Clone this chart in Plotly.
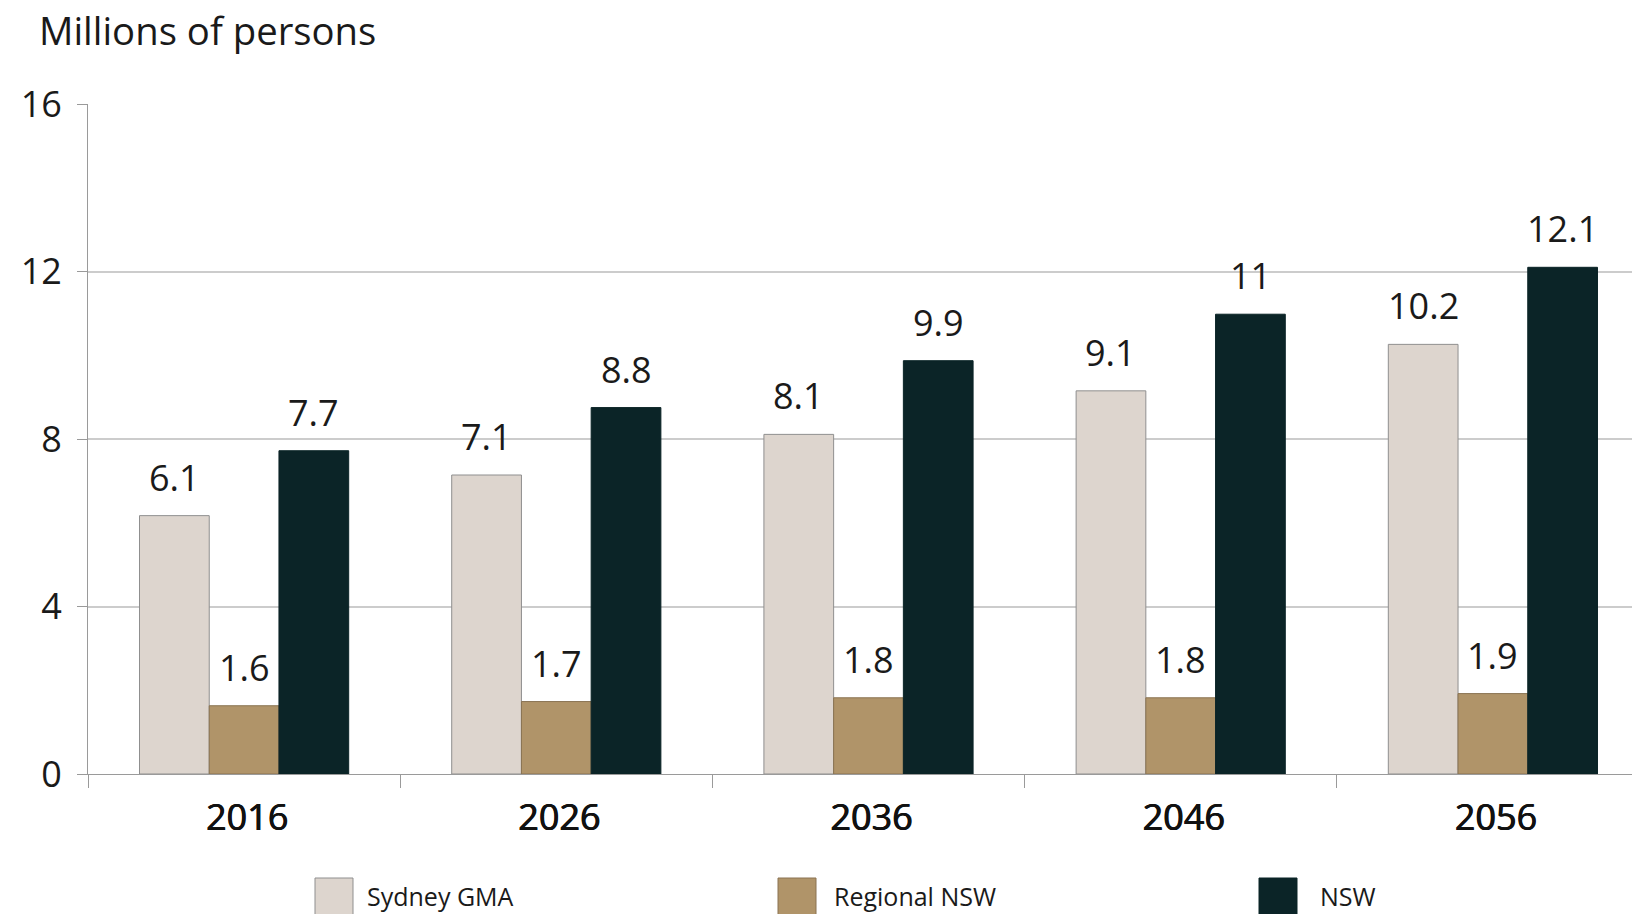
import plotly.graph_objects as go

# ---------------- data ----------------
years = ["2016", "2026", "2036", "2046", "2056"]
series_names = ["Sydney GMA", "Regional NSW", "NSW"]
sydney_gma = [6.17, 7.14, 8.11, 9.15, 10.26]
regional_nsw = [1.63, 1.73, 1.82, 1.82, 1.92]
nsw = [7.72, 8.75, 9.87, 10.98, 12.1]
sydney_labels = ["6.1", "7.1", "8.1", "9.1", "10.2"]
regional_labels = ["1.6", "1.7", "1.8", "1.8", "1.9"]
nsw_labels = ["7.7", "8.8", "9.9", "11", "12.1"]
y_ticks = [0, 4, 8, 12, 16]
y_title = "Millions of persons"

# ---------------- style ----------------
W, H = 1632, 914
ML, MR, MT, MB = 88, 0, 104, 140
PW, PH = W - ML - MR, H - MT - MB
CAT_W = 312.2  # pixels per category
BARGAP = 0.33
FONT = "Open Sans, Noto Sans, DejaVu Sans, sans-serif"
TXT = "#1a1a1a"
fills = ["#ddd5ce", "#b09469", "#0b2427"]
lines = ["#8f8f8f", "#8a7352", "#0b2427"]

values = [sydney_gma, regional_nsw, nsw]
labels = [sydney_labels, regional_labels, nsw_labels]

def px_x(px):
    return (px - ML) / PW

def px_y(py):
    return (H - MB - py) / PH

fig = go.Figure()
for name, vals, fc, lc in zip(series_names, values, fills, lines):
    fig.add_trace(go.Bar(
        x=years, y=vals, name=name,
        marker=dict(color=fc, line=dict(color=lc, width=1)),
        showlegend=False,
    ))

# value labels above bars
annotations = []
w = (1 - BARGAP) / 3
offsets = [-w, 0, w]
for vals, labs, off in zip(values, labels, offsets):
    for i, (v, t) in enumerate(zip(vals, labs)):
        annotations.append(dict(
            x=i + off, y=v, xref="x", yref="y", text=t, showarrow=False,
            xanchor="center", yanchor="bottom", yshift=12,
            font=dict(family=FONT, size=36, color=TXT),
        ))

# title (axis unit)
annotations.append(dict(
    x=px_x(37), y=px_y(30), xref="paper", yref="paper", text=y_title,
    showarrow=False, xanchor="left", yanchor="middle",
    font=dict(family=FONT, size=38.3, color=TXT),
))

# custom legend (large swatches)
shapes = []
legend_swatch_x = [315, 778, 1259]
legend_text_x = [365, 832, 1318]
SW = 38
for name, fc, lc, sx, tx in zip(series_names, fills, lines, legend_swatch_x, legend_text_x):
    shapes.append(dict(
        type="rect", xref="paper", yref="paper",
        x0=px_x(sx), x1=px_x(sx + SW), y0=px_y(878), y1=px_y(930),
        fillcolor=fc, line=dict(color=lc, width=1), layer="above",
    ))
    annotations.append(dict(
        x=px_x(tx), y=px_y(896), xref="paper", yref="paper", text=name,
        showarrow=False, xanchor="left", yanchor="middle",
        font=dict(family=FONT, size=25, color=TXT),
    ))

fig.update_layout(
    width=W, height=H,
    margin=dict(l=ML, r=MR, t=MT, b=MB, pad=0),
    paper_bgcolor="white", plot_bgcolor="white",
    barmode="group", bargap=BARGAP, bargroupgap=0,
    showlegend=False,
    annotations=annotations, shapes=shapes,
    font=dict(family=FONT, color=TXT),
)
fig.update_xaxes(
    type="category",
    range=[-0.5, -0.5 + PW / CAT_W],
    showline=True, linecolor="#9a9a9a", linewidth=1,
    ticks="outside", tickson="boundaries", ticklen=13, tickcolor="#9a9a9a", tickwidth=1,
    tickfont=dict(family=FONT, size=36, color="#111111", weight=400,
                  shadow="0.6px 0px 0px #111111, -0.3px 0px 0px #111111"),
    ticklabelstandoff=12, ticklabelshift=3,
    showgrid=False, zeroline=False,
)
fig.update_yaxes(
    range=[0, 16], tickvals=y_ticks,
    showline=True, linecolor="#9a9a9a", linewidth=1,
    ticks="outside", ticklen=10, tickcolor="#9a9a9a", tickwidth=1,
    tickfont=dict(family=FONT, size=36, color=TXT),
    ticklabelstandoff=8,
    showgrid=True, gridcolor="#cccccc", gridwidth=1.5,
    zeroline=False,
)

fig.write_html("out.html")
